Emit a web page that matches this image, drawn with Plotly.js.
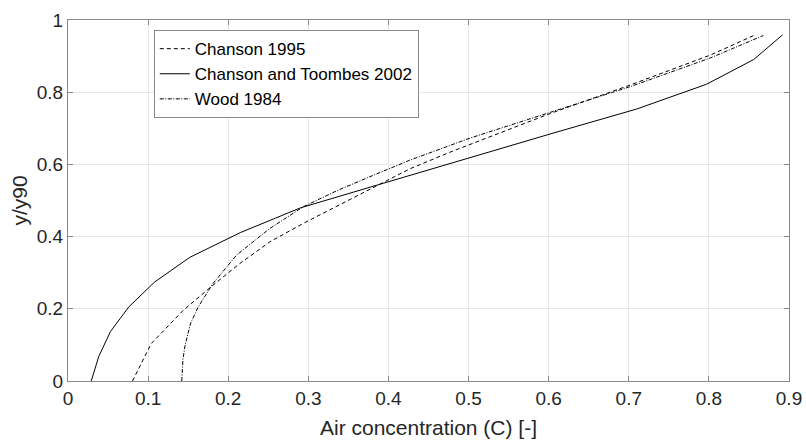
<!DOCTYPE html>
<html>
<head>
<meta charset="utf-8">
<script src="https://cdn.plot.ly/plotly-3.0.1.min.js"></script>
<style>html,body{margin:0;padding:0;background:#fff}#chart{width:806px;height:440px}</style>
</head>
<body>
<div id="chart"></div>
<script>
// Chanson 1995 (dashed)
var chanson1995X = [0.0805, 0.104, 0.144, 0.181, 0.2146, 0.252, 0.2937, 0.3355, 0.37, 0.427, 0.477, 0.527, 0.602, 0.702, 0.802, 0.858];
var chanson1995Y = [0, 0.104, 0.196, 0.2655, 0.3256, 0.3856, 0.4366, 0.484, 0.524, 0.588, 0.634, 0.677, 0.741, 0.82, 0.903, 0.959];
// Chanson and Toombes 2002 (solid)
var chansonToombesX = [0.029, 0.0385, 0.053, 0.076, 0.108, 0.152, 0.215, 0.29, 0.394, 0.497, 0.603, 0.71, 0.797, 0.856, 0.892];
var chansonToombesY = [0, 0.0685, 0.137, 0.2055, 0.274, 0.3425, 0.411, 0.4795, 0.548, 0.6165, 0.685, 0.7535, 0.822, 0.8905, 0.959];
// Wood 1984 (dash-dot)
var wood1984X = [0.142, 0.1425, 0.1435, 0.146, 0.153, 0.1625, 0.181, 0.2105, 0.252, 0.2937, 0.3355, 0.377, 0.427, 0.502, 0.602, 0.702, 0.802, 0.868];
var wood1984Y = [0, 0.03, 0.06, 0.097, 0.16, 0.205, 0.27, 0.349, 0.4227, 0.4827, 0.527, 0.566, 0.612, 0.673, 0.744, 0.8155, 0.895, 0.957];

var names = ["Chanson 1995", "Chanson and Toombes 2002", "Wood 1984"];
var xTitle = "Air concentration (C) [-]";
var yTitle = "y/y90";

var FONT = "Liberation Sans, Arial, Helvetica, sans-serif";
var traces = [
  {x: chanson1995X, y: chanson1995Y, name: names[0], mode: "lines", line: {color: "#000", width: 1, dash: "4px,3px"}},
  {x: chansonToombesX, y: chansonToombesY, name: names[1], mode: "lines", line: {color: "#000", width: 1, dash: "solid"}},
  {x: wood1984X, y: wood1984Y, name: names[2], mode: "lines", line: {color: "#000", width: 1, dash: "4px,1.5px,1px,1.5px"}}
];
var axisCommon = {
  showline: true, linecolor: "#8a8a8a", linewidth: 1, mirror: "ticks",
  ticks: "inside", ticklen: 5, tickcolor: "#8a8a8a",
  showgrid: true, gridcolor: "#e6e6e6", gridwidth: 1, zeroline: false,
  tickfont: {family: FONT, size: 19, color: "#262626"}
};
var layout = {
  width: 806, height: 440,
  margin: {l: 68, r: 17, t: 20, b: 59},
  paper_bgcolor: "#fff", plot_bgcolor: "#fff",
  showlegend: true,
  legend: {x: 0.119, y: 0.972, xanchor: "left", yanchor: "top", bgcolor: "#fff",
           bordercolor: "#8a8a8a", borderwidth: 1, itemwidth: 30,
           font: {family: FONT, size: 17, color: "#000"}},
  xaxis: Object.assign({}, axisCommon, {range: [0, 0.9], dtick: 0.1, tick0: 0,
           title: {text: xTitle, font: {family: FONT, size: 21, color: "#262626"}, standoff: 12}}),
  yaxis: Object.assign({}, axisCommon, {range: [0, 1], dtick: 0.2, tick0: 0,
           title: {text: yTitle, font: {family: FONT, size: 21, color: "#262626"}, standoff: 3}})
};
Plotly.newPlot("chart", traces, layout, {displayModeBar: false, staticPlot: true});
</script>
</body>
</html>
